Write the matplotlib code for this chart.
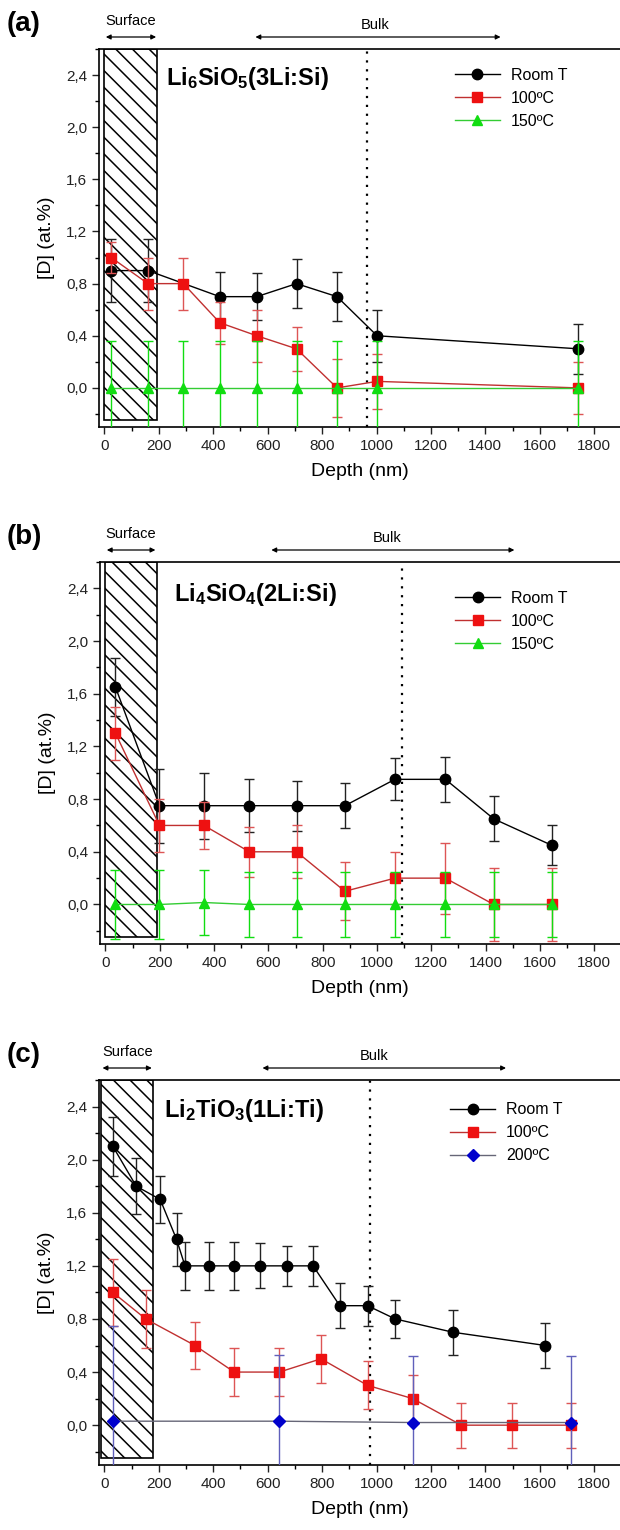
import matplotlib
matplotlib.use('Agg')
import matplotlib.pyplot as plt
from matplotlib.patches import Rectangle
from matplotlib.ticker import MultipleLocator, FuncFormatter

plt.rcParams['font.family'] = ['Liberation Sans', 'DejaVu Sans']
plt.rcParams['mathtext.fontset'] = 'custom'
plt.rcParams['mathtext.rm'] = 'Liberation Sans'
plt.rcParams['mathtext.bf'] = 'Liberation Sans:bold'
plt.rcParams['mathtext.it'] = 'Liberation Sans:italic'
plt.rcParams['hatch.linewidth'] = 1.1

# ---------------- data ----------------
# (a) Li6SiO5
a_x_rt = [25, 160, 424, 560, 706, 855, 1002, 1741]
a_y_rt = [0.9, 0.9, 0.7, 0.7, 0.8, 0.7, 0.4, 0.3]
a_e_rt = [0.24, 0.24, 0.19, 0.18, 0.19, 0.19, 0.20, 0.19]
a_x_100 = [25, 160, 290, 424, 560, 706, 855, 1002, 1741]
a_y_100 = [1.0, 0.8, 0.8, 0.5, 0.4, 0.3, 0.0, 0.05, 0.0]
a_e_100 = [0.12, 0.20, 0.20, 0.16, 0.20, 0.17, 0.22, 0.21, 0.20]
a_x_150 = [25, 160, 290, 424, 560, 706, 855, 1002, 1741]
a_y_150 = [0.0, 0.0, 0.0, 0.0, 0.0, 0.0, 0.0, 0.0, 0.0]
a_e_150 = [0.36, 0.36, 0.36, 0.36, 0.36, 0.36, 0.36, 0.36, 0.36]

# (b) Li4SiO4
b_x = [37, 199, 363, 530, 704, 882, 1066, 1252, 1430, 1643]
b_y_rt = [1.65, 0.75, 0.75, 0.75, 0.75, 0.75, 0.95, 0.95, 0.65, 0.45]
b_e_rt = [0.22, 0.28, 0.25, 0.20, 0.19, 0.17, 0.16, 0.17, 0.17, 0.15]
b_y_100 = [1.3, 0.6, 0.6, 0.4, 0.4, 0.1, 0.2, 0.2, 0.0, 0.0]
b_e_100 = [0.20, 0.20, 0.18, 0.19, 0.20, 0.22, 0.20, 0.27, 0.28, 0.28]
b_y_150 = [0.0, 0.0, 0.015, 0.0, 0.0, 0.0, 0.0, 0.0, 0.0, 0.0]
b_e_150 = [0.26, 0.26, 0.25, 0.25, 0.25, 0.25, 0.25, 0.25, 0.25, 0.25]

# (c) Li2TiO3
c_x_rt = [31, 117, 205, 265, 296, 386, 477, 573, 670, 767, 865, 967, 1069, 1281, 1621]
c_y_rt = [2.1, 1.8, 1.7, 1.4, 1.2, 1.2, 1.2, 1.2, 1.2, 1.2, 0.9, 0.9, 0.8, 0.7, 0.6]
c_e_rt = [0.22, 0.21, 0.18, 0.20, 0.18, 0.18, 0.18, 0.17, 0.15, 0.15, 0.17, 0.15, 0.14, 0.17, 0.17]
c_x_100 = [31, 152, 333, 477, 643, 796, 967, 1133, 1312, 1498, 1714]
c_y_100 = [1.0, 0.8, 0.6, 0.4, 0.4, 0.5, 0.3, 0.2, 0.0, 0.0, 0.0]
c_e_100 = [0.25, 0.22, 0.18, 0.18, 0.18, 0.18, 0.18, 0.18, 0.17, 0.17, 0.17]
c_x_200 = [31, 643, 1133, 1714]
c_y_200 = [0.03, 0.03, 0.02, 0.02]
c_e_200 = [0.72, 0.50, 0.50, 0.50]

titles = [r'Li$_\mathbf{6}$SiO$_\mathbf{5}$(3Li:Si)',
          r'Li$_\mathbf{4}$SiO$_\mathbf{4}$(2Li:Si)',
          r'Li$_\mathbf{2}$TiO$_\mathbf{3}$(1Li:Ti)']
panel_labels = ['(a)', '(b)', '(c)']
labels_a = ['Room T', '100ºC', '150ºC']
labels_c = ['Room T', '100ºC', '200ºC']

# layout (pixels)
W, H = 620, 1530
boxes = [(99, 49, 427), (100, 562, 944), (99, 1080, 1465)]
surface_span = [(0, 195), (0, 189), (-12, 179)]
bulk_span = [(555, 1456), (611, 1506), (581, 1476)]
bulk_text_x = [996, 1038, 992]
vline_x = [965, 1093, 977]
legend_anchor = [(0.683, 0.950), (0.683, 0.924), (0.674, 0.942)]
title_pos = [(0.129, 0.921), (0.142, 0.915), (0.124, 0.922)]

fig = plt.figure(figsize=(W / 100, H / 100), dpi=100)

BLACK = '#000000'
RED = '#ee1111'
RED_LINE = '#c03030'
RED_ERR = '#dd5555'
GREEN = '#11dd11'
GREEN_LINE = '#33cc33'
BLUE = '#0000cc'
BLUE_LINE = '#666677'
BLUE_ERR = '#6060bb'


def series(ax, x, y, e, mk, mc, lc, ec, ms, label, z):
    ax.errorbar(x, y, yerr=e, fmt='none', ecolor=ec, elinewidth=1.0,
                capsize=3.5, capthick=1.0, zorder=z)
    ln, = ax.plot(x, y, '-', marker=mk, color=lc, lw=1.0, mfc=mc, mec=mc,
                  ms=ms, label=label, zorder=z + 0.5)
    return ln


axes = []
for i, (left, top, bottom) in enumerate(boxes):
    ax = fig.add_axes([left / W, 1 - bottom / H, 1 - left / W, (bottom - top) / H])
    axes.append(ax)
    hpx = bottom - top
    ax.set_xlim(-20, 1895)
    ax.set_ylim(-0.3, 2.6)
    for s in ['top', 'left', 'bottom']:
        ax.spines[s].set_linewidth(1.2)
    ax.spines['right'].set_visible(False)
    ax.xaxis.set_major_locator(MultipleLocator(200))
    ax.xaxis.set_minor_locator(MultipleLocator(100))
    ax.yaxis.set_major_locator(MultipleLocator(0.4))
    ax.yaxis.set_minor_locator(MultipleLocator(0.2))
    ax.yaxis.set_major_formatter(FuncFormatter(lambda v, p: f"{v:.1f}".replace('.', ',').replace('-0,0', '0,0')))
    ax.tick_params(which='major', direction='out', length=5, width=1, labelsize=11, colors='#222222')
    ax.tick_params(which='minor', direction='out', length=3, width=1)
    ax.tick_params(top=False, right=False)
    ax.set_xlabel('Depth (nm)', fontsize=14, labelpad=7)
    ax.set_ylabel('[D] (at.%)', fontsize=14, labelpad=8)

    s0, s1 = surface_span[i]
    ax.add_patch(Rectangle((s0, -0.25), s1 - s0, 2.85, facecolor='white',
                           edgecolor='black', hatch='\\\\', lw=1.2, zorder=1))
    ax.axvline(vline_x[i], ls=(0, (1, 3)), color='black', lw=1.6, zorder=1.5)

    tr = ax.get_xaxis_transform()
    y_arrow = 1 + 12 / hpx
    y_text = 1 + 28 / hpx
    ax.annotate('', xy=(s1 - 5, y_arrow), xytext=(s0 + 5, y_arrow), xycoords=tr,
                textcoords=tr, annotation_clip=False,
                arrowprops=dict(arrowstyle='<|-|>', lw=0.9, color='black',
                                mutation_scale=7, shrinkA=0, shrinkB=0))
    ax.text((s0 + s1) / 2, y_text, 'Surface', transform=tr, ha='center', va='center',
            fontsize=10.5)
    b0, b1 = bulk_span[i]
    ax.annotate('', xy=(b1, y_arrow), xytext=(b0, y_arrow), xycoords=tr,
                textcoords=tr, annotation_clip=False,
                arrowprops=dict(arrowstyle='<|-|>', lw=0.9, color='black',
                                mutation_scale=7, shrinkA=0, shrinkB=0))
    ax.text(bulk_text_x[i], y_text - 4 / hpx, 'Bulk', transform=tr, ha='center', va='center',
            fontsize=10.5)
    ax.text(-0.145, 1 + 25 / hpx, panel_labels[i], transform=ax.transAxes,
            ha='center', va='center', fontsize=20, fontweight='bold')
    ax.text(title_pos[i][0], title_pos[i][1], titles[i], transform=ax.transAxes,
            ha='left', va='center', fontsize=17, fontweight='bold')

# panel (a)
ax = axes[0]
h1 = series(ax, a_x_rt, a_y_rt, a_e_rt, 'o', BLACK, BLACK, '#222222', 7.5, labels_a[0], 3)
h2 = series(ax, a_x_100, a_y_100, a_e_100, 's', RED, RED_LINE, RED_ERR, 6.5, labels_a[1], 4)
h3 = series(ax, a_x_150, a_y_150, a_e_150, '^', GREEN, GREEN_LINE, GREEN, 7.5, labels_a[2], 5)
ax.legend(handles=[h1, h2, h3], loc='upper left', bbox_to_anchor=legend_anchor[0],
          frameon=False, fontsize=11.5, handlelength=2.8, handletextpad=0.7,
          labelspacing=0.5, borderpad=0, borderaxespad=0)

# panel (b)
ax = axes[1]
h1 = series(ax, b_x, b_y_rt, b_e_rt, 'o', BLACK, BLACK, '#222222', 7.5, labels_a[0], 3)
h2 = series(ax, b_x, b_y_100, b_e_100, 's', RED, RED_LINE, RED_ERR, 6.5, labels_a[1], 4)
h3 = series(ax, b_x, b_y_150, b_e_150, '^', GREEN, GREEN_LINE, GREEN, 7.5, labels_a[2], 5)
ax.legend(handles=[h1, h2, h3], loc='upper left', bbox_to_anchor=legend_anchor[1],
          frameon=False, fontsize=11.5, handlelength=2.8, handletextpad=0.7,
          labelspacing=0.5, borderpad=0, borderaxespad=0)

# panel (c)
ax = axes[2]
h1 = series(ax, c_x_rt, c_y_rt, c_e_rt, 'o', BLACK, BLACK, '#222222', 7.5, labels_c[0], 3)
h2 = series(ax, c_x_100, c_y_100, c_e_100, 's', RED, RED_LINE, RED_ERR, 6.5, labels_c[1], 4)
h3 = series(ax, c_x_200, c_y_200, c_e_200, 'D', BLUE, BLUE_LINE, BLUE_ERR, 6.0, labels_c[2], 5)
ax.legend(handles=[h1, h2, h3], loc='upper left', bbox_to_anchor=legend_anchor[2],
          frameon=False, fontsize=11.5, handlelength=2.8, handletextpad=0.7,
          labelspacing=0.5, borderpad=0, borderaxespad=0)

fig.savefig('out.png', dpi=100)
